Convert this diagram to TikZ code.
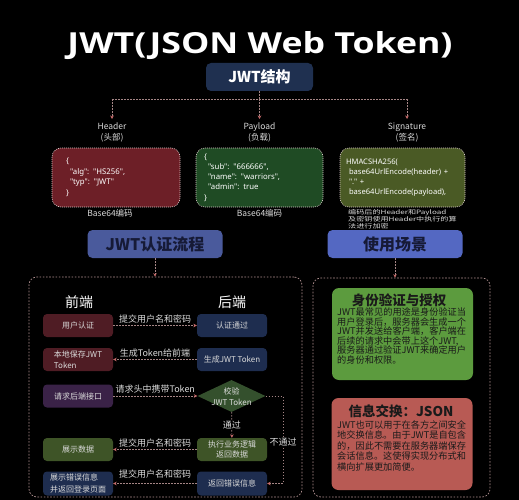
\documentclass[tikz,border=0pt]{standalone}
\usepackage{fontspec}
\usepackage{graphicx}
\setmainfont{Noto Sans CJK SC}
\newfontfamily\titlefont{Open Sans}
\newfontfamily\latinfont{Noto Sans}
\usetikzlibrary{shapes.geometric,arrows.meta}
\definecolor{hdrred}{HTML}{6D1F27}
\definecolor{paygreen}{HTML}{1F4B24}
\definecolor{sigolive}{HTML}{4A5A25}
\definecolor{boxedge}{HTML}{D8C8C8}
\definecolor{jsfill}{HTML}{1F3050}
\definecolor{fpfill}{HTML}{4A5A9C}
\definecolor{usfill}{HTML}{5468C2}
\definecolor{maroon}{HTML}{4F1C24}
\definecolor{purp}{HTML}{3A2247}
\definecolor{olivef}{HTML}{3E5427}
\definecolor{navyf}{HTML}{1E2D4F}
\definecolor{dgreen}{HTML}{34502D}
\definecolor{idgreen}{HTML}{5C9B3E}
\definecolor{salmon}{HTML}{B85A54}
\definecolor{conncol}{HTML}{A58585}
\definecolor{tipcol}{HTML}{C56A6A}
\definecolor{contcol}{HTML}{B09090}
\definecolor{darktext}{HTML}{161A36}
\definecolor{bodytext}{HTML}{1A1A1A}
\definecolor{lighttext}{HTML}{DADADA}
\begin{document}
\begin{tikzpicture}[x=1pt,y=-1pt,
  conn/.style={draw=conncol, dash pattern=on 1.6pt off 1.4pt, line width=0.7pt},
  arr/.style={conn, -{Stealth[length=3.5pt,width=3.5pt,color=tipcol]}},
  fe/.style={rounded corners=4pt, minimum width=70pt, minimum height=23pt, inner sep=1pt,
    font=\fontsize{8}{10.5}\selectfont, text=lighttext, align=center},
  lab/.style={font=\fontsize{9}{10}\selectfont, text=lighttext, inner sep=1pt},
  toplab/.style={font=\fontsize{8.5}{10.5}\selectfont, text=lighttext, align=center, inner sep=1pt},
  jbox/.style={rounded corners=9pt, draw=boxedge, dash pattern=on 1pt off 1pt, line width=0.6pt,
    minimum height=59pt, align=left, text=white, inner ysep=0pt},
  secbox/.style={rounded corners=5pt, minimum width=135pt, minimum height=28pt,
    font=\fontsize{16}{18}\selectfont\bfseries, text=darktext},
  cont/.style={draw=contcol, rounded corners=8pt, dash pattern=on 1.6pt off 1.6pt, line width=0.7pt},
  infobox/.style={rounded corners=7pt, minimum width=141pt, minimum height=92pt},
  infotitle/.style={font=\fontsize{13.5}{15}\selectfont\bfseries, text=bodytext, inner sep=0pt},
  infobody/.style={font=\fontsize{9.2}{9.6}\selectfont, text=bodytext, align=left, inner sep=0pt}
]
\fill[black] (0,0) rectangle (519,500);
\useasboundingbox (0,0) rectangle (519,500);

% title
\node[text=white, inner sep=0pt, anchor=base] (title) at (260,53.5) {\resizebox{385pt}{22pt}{\titlefont\bfseries JWT(JSON Web Token)}};

% JWT structure
\node[rounded corners=5pt, fill=jsfill, minimum width=107pt, minimum height=28pt, text=white,
  font=\fontsize{15}{17}\selectfont\bfseries] (js) at (259.5,77) {JWT结构};
\coordinate (jsp) at (259.5,99);
\coordinate (hsp) at (112,99);
\coordinate (ssp) at (407,99);
\node[toplab, anchor=north] (hlab) at (112,122) {Header\\(头部)};
\node[toplab, anchor=north] (plab) at (259.5,122) {Payload\\(负载)};
\node[toplab, anchor=north] (slab) at (407,122) {Signature\\(签名)};
\draw[conn] (js) -- (jsp);
\draw[conn] (hsp) -- (ssp);
\draw[arr, shorten >=3pt] (hsp) -- (hlab);
\draw[arr, shorten >=3pt] (jsp) -- (plab);
\draw[arr, shorten >=3pt] (ssp) -- (slab);

\node[jbox, fill=hdrred, text width=100pt, inner xsep=14pt, font=\latinfont\fontsize{7.8}{10.5}\selectfont] (hb) at (116,177.5)
  {\{\\\hspace*{4pt}"alg": "HS256",\\\hspace*{4pt}"typ": "JWT"\\\}};
\node[jbox, fill=paygreen, text width=111pt, inner xsep=8pt, font=\latinfont\fontsize{7.8}{10.3}\selectfont] (pb) at (259.5,177.5)
  {\{\\\hspace*{4pt}"sub": "666666",\\\hspace*{4pt}"name": "warriors",\\\hspace*{4pt}"admin": true\\\}};
\node[jbox, fill=sigolive, text width=113pt, inner xsep=6pt, font=\latinfont\fontsize{7.6}{10}\selectfont] (sb) at (402.5,177.5)
  {HMACSHA256(\\\hspace*{3pt}base64UrlEncode(header) +\\\hspace*{3pt}"." +\\\hspace*{3pt}base64UrlEncode(payload),};

\node[toplab] (hb64) at (110,213) {Base64编码};
\node[toplab] (pb64) at (259.5,213) {Base64编码};
\node[anchor=north west, inner sep=0pt, text=lighttext] (snote) at (348,209)
  {\scalebox{1.35}[1]{\fontsize{6}{6.3}\selectfont\begin{tabular}{@{}l@{}}编码后的Header和Payload\\及密钥使用Header中执行的算\\法进行加密\end{tabular}}};

% section headers
\node[secbox, fill=fpfill] (fp) at (155,244) {JWT认证流程};
\node[secbox, fill=usfill] (us) at (395,244) {使用场景};

% containers
\node[cont, minimum width=273pt, minimum height=220pt] (lc) at (165.5,387) {};
\node[cont, minimum width=177pt, minimum height=219pt] (rc) at (401.5,387.5) {};
\draw[arr] (fp.south) -- (fp.south |- lc.north);
\draw[arr] (us.south) -- (us.south |- rc.north);

% flow
\node[text=white, font=\fontsize{14}{16}\selectfont] (fe) at (79,302) {前端};
\node[text=white, font=\fontsize{14}{16}\selectfont] (be) at (232,302) {后端};

\node[fe, fill=maroon] (u1) at (78,325.5) {用户认证};
\node[fe, fill=maroon, align=left] (u2) at (78,359.5) {本地保存JWT\\Token};
\node[fe, fill=purp] (u3) at (78,396) {请求后端接口};
\node[fe, fill=olivef] (u4) at (78,449.5) {展示数据};
\node[fe, fill=navyf, align=left, minimum height=24pt, font=\fontsize{8}{12}\selectfont] (u5) at (78,483.5) {展示错误信息\\并返回登录页面};

\node[fe, fill=navyf] (b1) at (232,325.5) {认证通过};
\node[fe, fill=navyf] (b2) at (232,359.5) {生成JWT Token};
\node[diamond, fill=dgreen, minimum width=68pt, minimum height=32pt, inner sep=0pt] (dia) at (231.5,396) {};
\node[fe, minimum width=0pt, minimum height=0pt, font=\fontsize{8}{11}\selectfont] (dial) at (231.5,396.5) {校验\\JWT Token};
\node[fe, fill=olivef, font=\fontsize{8}{10}\selectfont] (b3) at (232,449.5) {执行业务逻辑\\返回数据};
\node[fe, fill=navyf, minimum height=24pt] (b4) at (232,483.5) {返回错误信息};

\coordinate (nr) at (283,396);
\coordinate (nd) at (283,483.5);

\draw[arr] (u1) -- (b1) node[lab, midway, above=1pt] {提交用户名和密码};
\draw[arr] (b2) -- (u2) node[lab, midway, above=1pt] {生成Token给前端};
\draw[arr] (u3) -- (dia) node[lab, midway, above=1pt] {请求头中携带Token};
\draw[arr] (dia) -- (b3) node[lab, midway, fill=black] {通过};
\draw[arr] (dia.east) -- (nr) -- (nd) -- (b4.east);
\node[lab, fill=black] (ntg) at (283,442) {不通过};
\draw[arr] (b3) -- (u4) node[lab, midway, above=1pt] {提交用户名和密码};
\draw[arr] (b4) -- (u5) node[lab, midway, above=4pt] {提交用户名和密码};

% usage scenarios
\node[infobox, fill=idgreen] (idb) at (402.5,334) {};
\node[infotitle] (idt) at (399,300) {身份验证与授权};
\node[infobody, anchor=north west] (idbody) at (337,307.5)
  {JWT最常见的用途是身份验证当\\用户登录后，服务器会生成一个\\JWT并发送给客户端，客户端在\\后续的请求中会带上这个JWT,\\服务器通过验证JWT来确定用户\\的身份和权限。};
\node[infobox, fill=salmon] (exb) at (402,444) {};
\node[infotitle] (ext) at (401,411) {信息交换：JSON};
\node[infobody, anchor=north west, font=\fontsize{9.2}{10.5}\selectfont] (exbody) at (337,420)
  {JWT也可以用于在各方之间安全\\地交换信息。由于JWT是自包含\\的，因此不需要在服务器端保存\\会话信息。这使得实现分布式和\\横向扩展更加简便。};
\end{tikzpicture}
\end{document}
